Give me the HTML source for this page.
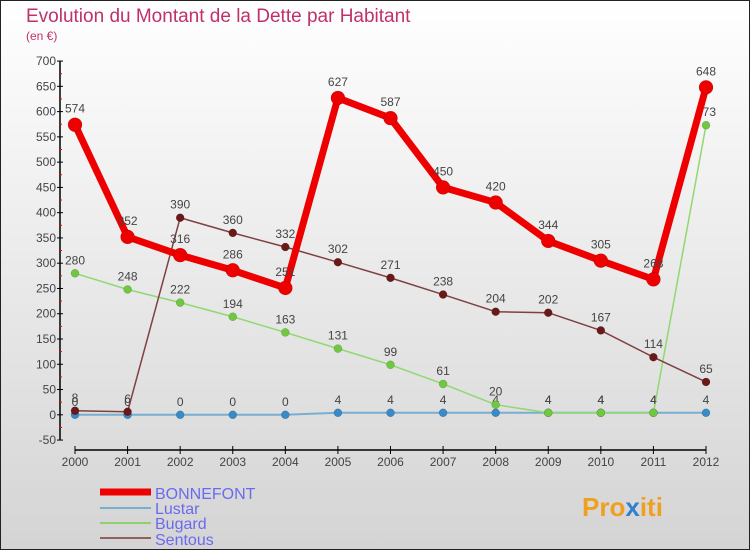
<!DOCTYPE html>
<html><head><meta charset="utf-8"><style>
body{margin:0;}
svg text{font-family:"Liberation Sans",sans-serif;}
</style></head><body>
<svg id="chart" width="750" height="550" xmlns="http://www.w3.org/2000/svg">
<defs><linearGradient id="bg" x1="0" y1="0" x2="0" y2="1"><stop offset="0" stop-color="#ffffff"/><stop offset="1" stop-color="#d4d4d4"/></linearGradient></defs>
<rect x="0.5" y="0.5" width="749" height="549" fill="url(#bg)" stroke="#222"/>
<text x="26" y="22" font-size="19" fill="#c0306a">Evolution du Montant de la Dette par Habitant</text>
<text x="26" y="40" font-size="12" fill="#c0306a">(en €)</text>
<g id="axes"></g><g id="series"></g>
<g>
<line x1="100" y1="492" x2="151" y2="492" stroke="#ee0000" stroke-width="7"/>
<text x="155" y="499" font-size="16" fill="#6a6af0">BONNEFONT</text>
<line x1="100" y1="508" x2="151" y2="508" stroke="#7aaed0" stroke-width="2"/>
<text x="155" y="514" font-size="16" fill="#6a6af0">Lustar</text>
<line x1="100" y1="523" x2="151" y2="523" stroke="#90d070" stroke-width="2"/>
<text x="155" y="529" font-size="16" fill="#6a6af0">Bugard</text>
<line x1="100" y1="538" x2="151" y2="538" stroke="#906060" stroke-width="2"/>
<text x="155" y="545" font-size="16" fill="#6a6af0">Sentous</text>
</g>
<text x="582" y="516" font-size="26" font-weight="bold" fill="#f0a020">Pro<tspan fill="#3080d0">x</tspan>iti</text>
</svg>
<script>
const years=["2000","2001","2002","2003","2004","2005","2006","2007","2008","2009","2010","2011","2012"];
const bonnefont=[574,352,316,286,251,627,587,450,420,344,305,268,648];
const lustar=[0,0,0,0,0,4,4,4,4,4,4,4,4];
const bugard=[280,248,222,194,163,131,99,61,20,4,4,4,573];
const sentous=[8,6,390,360,332,302,271,238,204,202,167,114,65];
const yTicks=[-50,0,50,100,150,200,250,300,350,400,450,500,550,600,650,700];
const NS="http://www.w3.org/2000/svg";
function X(i){return 75+i*(706-75)/12;}
function Y(v){return 414.8-v*(379/750);}
function mk(tag,attrs,parent){const e=document.createElementNS(NS,tag);for(const k in attrs)e.setAttribute(k,attrs[k]);parent.appendChild(e);return e;}
const ax=document.getElementById('axes');
let l=mk('line',{x1:60,y1:Y(700),x2:60,y2:Y(-50),stroke:'#000','stroke-width':1.5},ax);


yTicks.forEach((t,i)=>{
 mk('line',{x1:57,y1:Y(t),x2:63,y2:Y(t),stroke:'#000'},ax);
 if(i<yTicks.length-1) mk('line',{x1:59,y1:Y(t+25),x2:62,y2:Y(t+25),stroke:'#e00'},ax);
 const tx=mk('text',{x:56,y:Y(t)+4,'font-size':12,fill:'#444','text-anchor':'end'},ax);
 tx.textContent=t;
 
 
});
l=mk('line',{x1:X(0),y1:450,x2:X(12),y2:450,stroke:'#000','stroke-width':1.5},ax);


years.forEach((y,i)=>{
 mk('line',{x1:X(i),y1:446,x2:X(i),y2:454,stroke:'#000'},ax);
 const tx=mk('text',{x:X(i),y:466,'font-size':12,fill:'#444','text-anchor':'middle'},ax);
 tx.textContent=y;
 
 
});
const sg=document.getElementById('series');
function draw(name,data,color,w,r,dot){
 const g=mk('g',{},sg);
 
 
 mk('polyline',{points:data.map((v,i)=>X(i)+','+Y(v)).join(' '),fill:'none',stroke:color,'stroke-width':w,'stroke-linejoin':'round'},g);
 data.forEach((v,i)=>{
  const c=mk('circle',{cx:X(i),cy:Y(v),r:r,fill:dot,stroke:'rgba(0,0,0,0.25)','stroke-width':0.5},g);
  
  
  const t=mk('text',{x:X(i),y:Y(v)-r-5,'font-size':12,fill:'#444','text-anchor':'middle'},g);
  t.textContent=v;
  
  
 });
}
draw('lustar',lustar,'#7aaed0',2,4,'#3a8ac8');
draw('bugard',bugard,'#90d870',1.5,4,'#70c840');
draw('sentous',sentous,'#804040',1.5,4,'#6a1818');
draw('bonnefont',bonnefont,'#ee0000',7,7,'#ee0000');
</script>
</body></html>
